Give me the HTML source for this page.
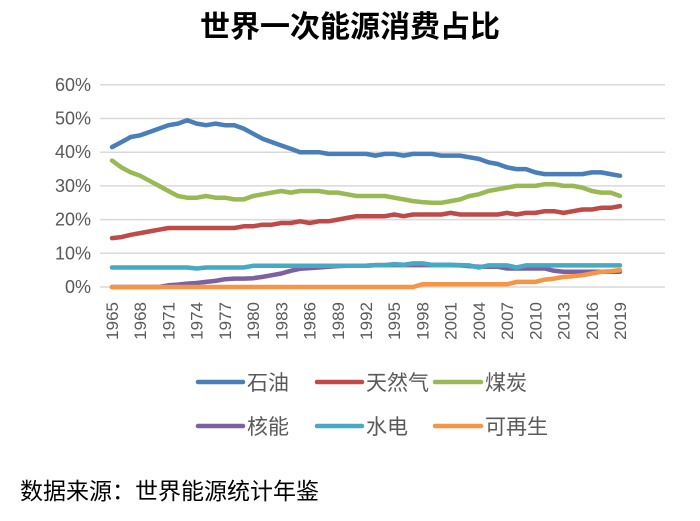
<!DOCTYPE html>
<html><head><meta charset="utf-8"><style>
body{margin:0;width:700px;height:516px;background:#fff;overflow:hidden}
</style></head><body>
<svg id="s" width="700" height="516" xmlns="http://www.w3.org/2000/svg" font-family="Liberation Sans, Noto Sans CJK SC, sans-serif">
<text x="350" y="37" text-anchor="middle" font-size="30" font-weight="bold" fill="#000">世界一次能源消费占比</text>
<g id="grid" stroke="#d9d9d9" stroke-width="1.5"></g>
<g id="yl" font-size="18" fill="#595959" text-anchor="end"></g>
<g id="xl" font-size="17" fill="#595959" text-anchor="end"></g>
<g id="lines" fill="none" stroke-width="4.5" stroke-linejoin="round" stroke-linecap="round"></g>
<g font-size="21" fill="#595959" font-family="Liberation Sans, Noto Sans CJK SC, sans-serif">
<line x1="198" y1="382" x2="243" y2="382" stroke="#4a7ebb" stroke-width="4.5" stroke-linecap="round"/><text x="247" y="390">石油</text>
<line x1="317" y1="382" x2="362" y2="382" stroke="#be4b48" stroke-width="4.5" stroke-linecap="round"/><text x="366" y="390">天然气</text>
<line x1="435" y1="382" x2="481" y2="382" stroke="#98b954" stroke-width="4.5" stroke-linecap="round"/><text x="485" y="390">煤炭</text>
<line x1="198" y1="426" x2="243" y2="426" stroke="#7d60a0" stroke-width="4.5" stroke-linecap="round"/><text x="247" y="434">核能</text>
<line x1="317" y1="426" x2="362" y2="426" stroke="#46aac5" stroke-width="4.5" stroke-linecap="round"/><text x="366" y="434">水电</text>
<line x1="435" y1="426" x2="481" y2="426" stroke="#f69545" stroke-width="4.5" stroke-linecap="round"/><text x="485" y="434">可再生</text>
</g>
<text x="20" y="499" font-size="23" fill="#000">数据来源：世界能源统计年鉴</text>
</svg>
<script>
var NS="http://www.w3.org/2000/svg";
function el(p,t,a,txt){var e=document.createElementNS(NS,t);for(var k in a)e.setAttribute(k,a[k]);if(txt!=null)e.textContent=txt;document.getElementById(p).appendChild(e);}
var y0=287,dy=33.7,x0=112,dx=(620-112)/54;
for(var i=0;i<=6;i++){var y=y0-i*dy;el("grid","line",{x1:100,x2:665,y1:y,y2:y});el("yl","text",{x:91,y:y+6},i*10+"%");}
for(var yr=1965;yr<=2019;yr+=3){var x=x0+(yr-1965)*dx;el("xl","text",{transform:"translate("+(x+6)+",302) rotate(-90)"},yr);}
var oil=[41.5,43,44.5,45,46,47,48,48.5,49.5,48.5,48,48.5,48,48,47,45.5,44,43,42,41,40,40,40,39.5,39.5,39.5,39.5,39.5,39,39.5,39.5,39,39.5,39.5,39.5,39,39,39,38.5,38,37,36.5,35.5,35,35,34,33.5,33.5,33.5,33.5,33.5,34,34,33.5,33];
var gas=[14.5,14.8,15.5,16,16.5,17,17.5,17.5,17.5,17.5,17.5,17.5,17.5,17.5,18,18,18.5,18.5,19,19,19.5,19,19.5,19.5,20,20.5,21,21,21,21,21.5,21,21.5,21.5,21.5,21.5,22,21.5,21.5,21.5,21.5,21.5,22,21.5,22,22,22.5,22.5,22,22.5,23,23,23.5,23.5,24];
var coal=[37.5,35.5,34,33,31.5,30,28.5,27,26.5,26.5,27,26.5,26.5,26,26,27,27.5,28,28.5,28,28.5,28.5,28.5,28,28,27.5,27,27,27,27,26.5,26,25.5,25.2,25,25,25.5,26,27,27.5,28.5,29,29.5,30,30,30,30.5,30.5,30,30,29.5,28.5,28,28,27];
var nuc=[0,0,0,0,0,0,0.5,0.7,1,1.2,1.5,1.8,2.3,2.5,2.5,2.6,3,3.5,4,4.8,5.4,5.6,5.8,6,6.2,6.3,6.3,6.3,6.5,6.5,6.5,6.5,6.5,6.5,6.5,6.5,6.5,6.4,6.2,6,6,6,5.5,5.5,5.5,5.5,5.5,4.8,4.5,4.5,4.5,4.5,4.5,4.5,4.5];
var hyd=[5.8,5.8,5.8,5.8,5.8,5.8,5.8,5.8,5.8,5.5,5.8,5.8,5.8,5.8,5.8,6.3,6.3,6.3,6.3,6.3,6.3,6.3,6.3,6.3,6.3,6.3,6.3,6.3,6.5,6.5,6.8,6.6,7,7,6.6,6.6,6.6,6.5,6.4,5.8,6.4,6.4,6.4,5.8,6.4,6.4,6.4,6.4,6.4,6.4,6.4,6.4,6.4,6.4,6.4];
var ren=[];for(var i=0;i<55;i++){var yr=1965+i;ren.push(yr<1998?0:yr<2008?0.8:yr<2011?1.5:[2.2,2.5,3,3.2,3.5,4,4.5,4.7,5][yr-2011]);}
[[nuc,"#7d60a0"],[ren,"#f69545"],[hyd,"#46aac5"],[coal,"#98b954"],[gas,"#be4b48"],[oil,"#4a7ebb"]].forEach(function(s){
var pts=s[0].map(function(v,i){return (x0+i*dx).toFixed(1)+","+(y0-v*dy/10).toFixed(1)}).join(" ");
el("lines","polyline",{points:pts,stroke:s[1]});});
</script>
</body></html>
